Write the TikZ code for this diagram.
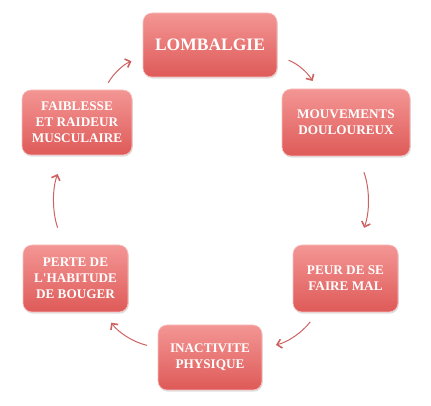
\documentclass[tikz,border=0pt]{standalone}
\usepackage{fontspec}
\setmainfont{Liberation Serif}[Ligatures=TeXOff]
\usetikzlibrary{arrows.meta}
\usetikzlibrary{shadows}

\definecolor{boxtop}{RGB}{243,150,148}
\definecolor{boxbot}{RGB}{222,90,88}
\definecolor{arrowcol}{RGB}{204,98,98}

\begin{document}
\begin{tikzpicture}[x=1pt,y=1pt,
  etape/.style={rectangle,rounded corners=9pt,top color=boxtop,bottom color=boxbot,
    draw=boxtop!60!white,line width=0.6pt,text=white,align=center,
    font=\bfseries\fontsize{13.2}{16}\selectfont,minimum width=106pt,minimum height=66pt,
    drop shadow={opacity=0.25,shadow xshift=0.8pt,shadow yshift=-1.6pt}},
  fleche/.style={draw=arrowcol,line width=1pt,bend left=20,
    -{Straight Barb[length=4.5pt,width=9pt,line width=1.6pt]}}]
 \useasboundingbox (0,0) rectangle (431,406);
 % boites du cycle
 \node[etape,minimum width=134pt,minimum height=64pt,font=\bfseries\fontsize{17.5}{20}\selectfont] (lomb) at (210,361) {LOMBALGIE};
 \node[etape,minimum width=128pt,minimum height=67pt] (mouv) at (346,283.5) {MOUVEMENTS\\DOULOUREUX};
 \node[etape,minimum width=105pt,minimum height=67pt] (peur) at (345.5,127.5) {PEUR DE SE\\FAIRE MAL};
 \node[etape,minimum width=104pt,minimum height=65pt] (inac) at (210,48.5) {INACTIVITE\\PHYSIQUE};
 \node[etape,minimum width=105pt,minimum height=67pt] (pert) at (75.5,127.5) {PERTE DE\\L'HABITUDE\\DE BOUGER};
 \node[etape,minimum width=110pt,minimum height=65pt] (faib) at (77,283.5) {FAIBLESSE\\ET RAIDEUR\\MUSCULAIRE};
 % fleches
 \draw[fleche,shorten <=8pt,shorten >=12pt] (faib) to (lomb);
 \draw[fleche,shorten <=12pt,shorten >=9pt] (lomb) to (mouv);
 \draw[fleche,shorten <=17pt,shorten >=18pt] (mouv) to (peur);
 \draw[fleche,shorten <=12pt,shorten >=14pt] (peur) to (inac);
 \draw[fleche,shorten <=11pt,shorten >=13pt] (inac) to (pert);
 \draw[fleche,shorten <=18pt,shorten >=20pt] (pert) to (faib);
\end{tikzpicture}
\end{document}
